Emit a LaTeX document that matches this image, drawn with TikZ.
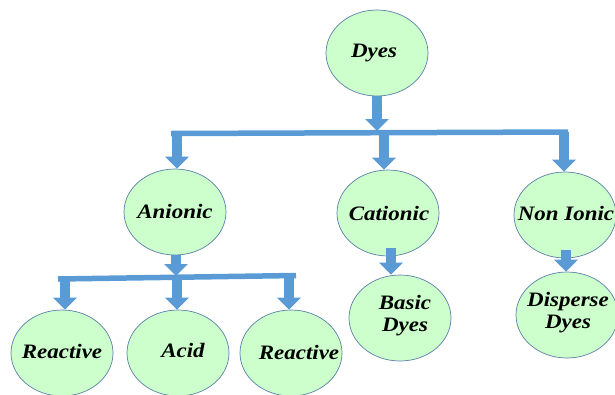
\documentclass[tikz,border=0pt]{standalone}
\usepackage{fontspec}
\newfontfamily\labfont[FakeStretch=1.12]{Liberation Serif}
\usetikzlibrary{shapes.geometric,arrows.meta}
\definecolor{nodefill}{HTML}{CCFFCC}
\definecolor{nodeline}{HTML}{5A7FA8}
\definecolor{arrowblue}{HTML}{5B9BD5}
\tikzset{
  circ/.style={ellipse, draw=nodeline, line width=0.7pt, fill=nodefill, minimum width=102pt, minimum height=86pt, inner sep=0pt},
  lab/.style={font=\labfont\bfseries\itshape\fontsize{20.5}{22}\selectfont, align=center, inner sep=0pt},
  blockarrow/.style={draw=arrowblue, line width=10pt, -{Triangle[width=23pt,length=12pt]}, fill=arrowblue},
  barline/.style={draw=arrowblue, line width=5.5pt}
}
\begin{document}
\begin{tikzpicture}[x=1pt,y=-1pt]
\useasboundingbox (0,0) rectangle (615,394);
\clip (0,0) rectangle (615,394);
% nodes
\node[circ] (dyes) at (377,53) {};
\node[circ] (anionic) at (175,212) {};
\node[circ] (cationic) at (388,213) {};
\node[circ] (nonionic) at (565,215) {};
\node[circ] (basic) at (400,318) {};
\node[circ] (disperse) at (567,315) {};
\node[circ] (react1) at (62,353) {};
\node[circ] (acid) at (178,353) {};
\node[circ] (react2) at (291,353) {};
% labels
\node[lab] (tdyes) at (374,53) {Dyes};
\node[lab] (tanionic) at (175,211) {Anionic};
\node[lab] (tcationic) at (389,213) {Cationic};
\node[lab] (tnonionic) at (566,213) {Non Ionic};
\node[lab] (tbasic) at (405,316) {Basic\\Dyes};
\node[lab] (tdisperse) at (568,313) {Disperse\\Dyes};
\node[lab] (treact1) at (62,351) {Reactive};
\node[lab] (tacid) at (183,350) {Acid};
\node[lab] (treact2) at (299,352) {Reactive};
% bar 1
\coordinate (b1l) at (171,133.5);
\coordinate (b1r) at (568,132);
\coordinate (b1m) at (377,131);
\coordinate (b1a) at (177,133);
\coordinate (b1c) at (384,132);
\coordinate (b1n) at (564,132);
\draw[barline] (b1l) -- (b1r);
\draw[blockarrow] (dyes.south) -- (b1m);
\draw[blockarrow] (b1a) -- (b1a |- anionic.north);
\draw[blockarrow] (b1c) -- (b1c |- cationic.north);
\draw[blockarrow] (b1n) -- (b1n |- nonionic.north);
% anionic branch
\coordinate (b2l) at (58,279);
\coordinate (b2r) at (296,275.5);
\coordinate (b2m) at (176,276);
\coordinate (b2a) at (65,278);
\coordinate (b2b) at (177,276);
\coordinate (b2c) at (289,274);
\draw[barline] (b2l) -- (b2r);
\draw[blockarrow] (anionic.south -| b2m) -- (b2m);
\draw[blockarrow] (b2a) -- (b2a |- react1.north);
\draw[blockarrow] (b2b) -- (b2b |- acid.north);
\draw[blockarrow] (b2c) -- (b2c |- react2.north);
% single branches
\coordinate (cb) at (391,248);
\coordinate (nb) at (566,250);
\draw[blockarrow] (cb) -- (cb |- basic.north);
\draw[blockarrow] (nb) -- (nb |- disperse.north);
\end{tikzpicture}
\end{document}
